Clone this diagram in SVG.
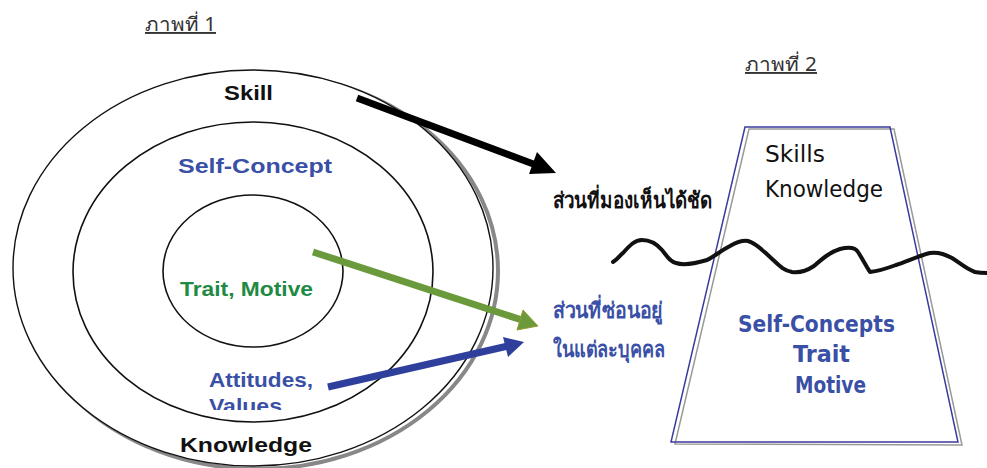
<svg xmlns="http://www.w3.org/2000/svg" width="987" height="468" viewBox="0 0 987 468">
<defs>
<style>
.ring{fill:none;stroke:#111;stroke-width:1.6}
.lbl{font-family:"Liberation Sans",Arial,sans-serif;font-weight:bold;font-size:21px;text-anchor:start}
.hand{font-family:"DejaVu Sans","Noto Sans",sans-serif;font-size:23px}
.thai{font-family:"Noto Sans","DejaVu Sans",sans-serif;font-size:22px;font-weight:bold}
.title{font-family:"Noto Sans","Liberation Sans",sans-serif;font-size:19px;fill:#333;text-decoration:underline}
</style>
<clipPath id="valclip"><rect x="0" y="0" width="500" height="410"/></clipPath>
</defs>
<rect width="987" height="468" fill="#fff"/>

<text class="title" x="145" y="31" textLength="71" lengthAdjust="spacingAndGlyphs">ภาพที่ 1</text>
<text class="title" x="745" y="71" textLength="72" lengthAdjust="spacingAndGlyphs">ภาพที่ 2</text>

<g id="outer-ring">
<ellipse cx="258" cy="271" rx="240" ry="198" fill="none" stroke="#888" stroke-width="4"/>
<ellipse cx="253" cy="268" rx="240" ry="198" fill="#fff" stroke="#111" stroke-width="1.4"/>
<text class="lbl" x="224" y="100" fill="#111" textLength="49" lengthAdjust="spacingAndGlyphs">Skill</text>
<text class="lbl" x="180" y="452" fill="#111" textLength="132" lengthAdjust="spacingAndGlyphs">Knowledge</text>
</g>
<g id="middle-ring">
<ellipse class="ring" cx="253" cy="272" rx="180" ry="150"/>
<text class="lbl" x="178" y="173" fill="#3a4fa6" textLength="154" lengthAdjust="spacingAndGlyphs">Self-Concept</text>
<g clip-path="url(#valclip)">
<text class="lbl" x="209" y="387" fill="#3a4fa6" textLength="104" lengthAdjust="spacingAndGlyphs">Attitudes,</text>
<text class="lbl" x="209" y="413" fill="#3a4fa6" textLength="73" lengthAdjust="spacingAndGlyphs">Values</text>
</g>
</g>
<g id="inner-ring">
<ellipse class="ring" cx="253" cy="271" rx="90" ry="76"/>
<text class="lbl" x="180" y="296" fill="#1f8a44" textLength="133" lengthAdjust="spacingAndGlyphs">Trait, Motive</text>
</g>

<g id="iceberg">
<polygon points="749,129 894,129 962,445 675,444" fill="none" stroke="#999" stroke-width="1.5"/>
<polygon points="745,127 890,127 958,442 671,442" fill="none" stroke="#3a3aa0" stroke-width="1.5"/>
<text class="hand" x="765" y="162" fill="#111" textLength="60" lengthAdjust="spacingAndGlyphs">Skills</text>
<text class="hand" x="765" y="197" fill="#111" textLength="118" lengthAdjust="spacingAndGlyphs">Knowledge</text>
<text class="hand" x="738" y="332" fill="#3a4fa6" font-weight="bold" textLength="157" lengthAdjust="spacingAndGlyphs">Self-Concepts</text>
<text class="hand" x="793" y="362" fill="#3a4fa6" font-weight="bold" textLength="57" lengthAdjust="spacingAndGlyphs">Trait</text>
<text class="hand" x="795" y="393" fill="#3a4fa6" font-weight="bold" textLength="71" lengthAdjust="spacingAndGlyphs">Motive</text>
</g>

<g id="waterline">
<path d="M613,262 C618,259 620,255 623,253 C630,245 635,240 642,240 C650,240 656,243 662,250 C667,256 670,262 676,263 C685,266 697,263 707,260 C715,256 722,250 730,246 C737,242 742,240 748,241 C756,243 762,250 770,257 C778,264 782,270 792,272 C800,273 808,270 814,266 C822,259 830,252 840,249 C848,247 855,247 858,252 C862,258 866,266 870,272 C880,271 888,268 896,265 C908,261 918,256 930,253 C940,252 946,255 952,258 C960,263 966,269 975,272 C980,273 984,273 987,273" fill="none" stroke="#111" stroke-width="4" stroke-linecap="round" stroke-linejoin="round"/>
</g>

<g id="labels">
<text class="thai" x="553" y="208" fill="#111" textLength="159" lengthAdjust="spacingAndGlyphs">ส่วนที่มองเห็นได้ชัด</text>
<text class="thai" x="553" y="318" fill="#3a4fa6" textLength="110" lengthAdjust="spacingAndGlyphs">ส่วนที่ซ่อนอยู่</text>
<text class="thai" x="553" y="357" fill="#3a4fa6" textLength="112" lengthAdjust="spacingAndGlyphs">ในแต่ละบุคคล</text>
</g>

<g id="connectors" stroke-linecap="butt">
<line x1="357" y1="98" x2="536" y2="165" stroke="#000" stroke-width="7"/>
<polygon points="556,173 529,174 537,152" fill="#000"/>
<line x1="313" y1="252" x2="522" y2="320" stroke="#6a9a3c" stroke-width="7"/>
<polygon points="538,326 517,330 523,310" fill="#6a9a3c" stroke="#9a9a30" stroke-width="1"/>
<line x1="328" y1="387" x2="508" y2="346" stroke="#2e3f9c" stroke-width="7"/>
<polygon points="524,342 508,357 503,337" fill="#2e3f9c"/>
</g>
</svg>
